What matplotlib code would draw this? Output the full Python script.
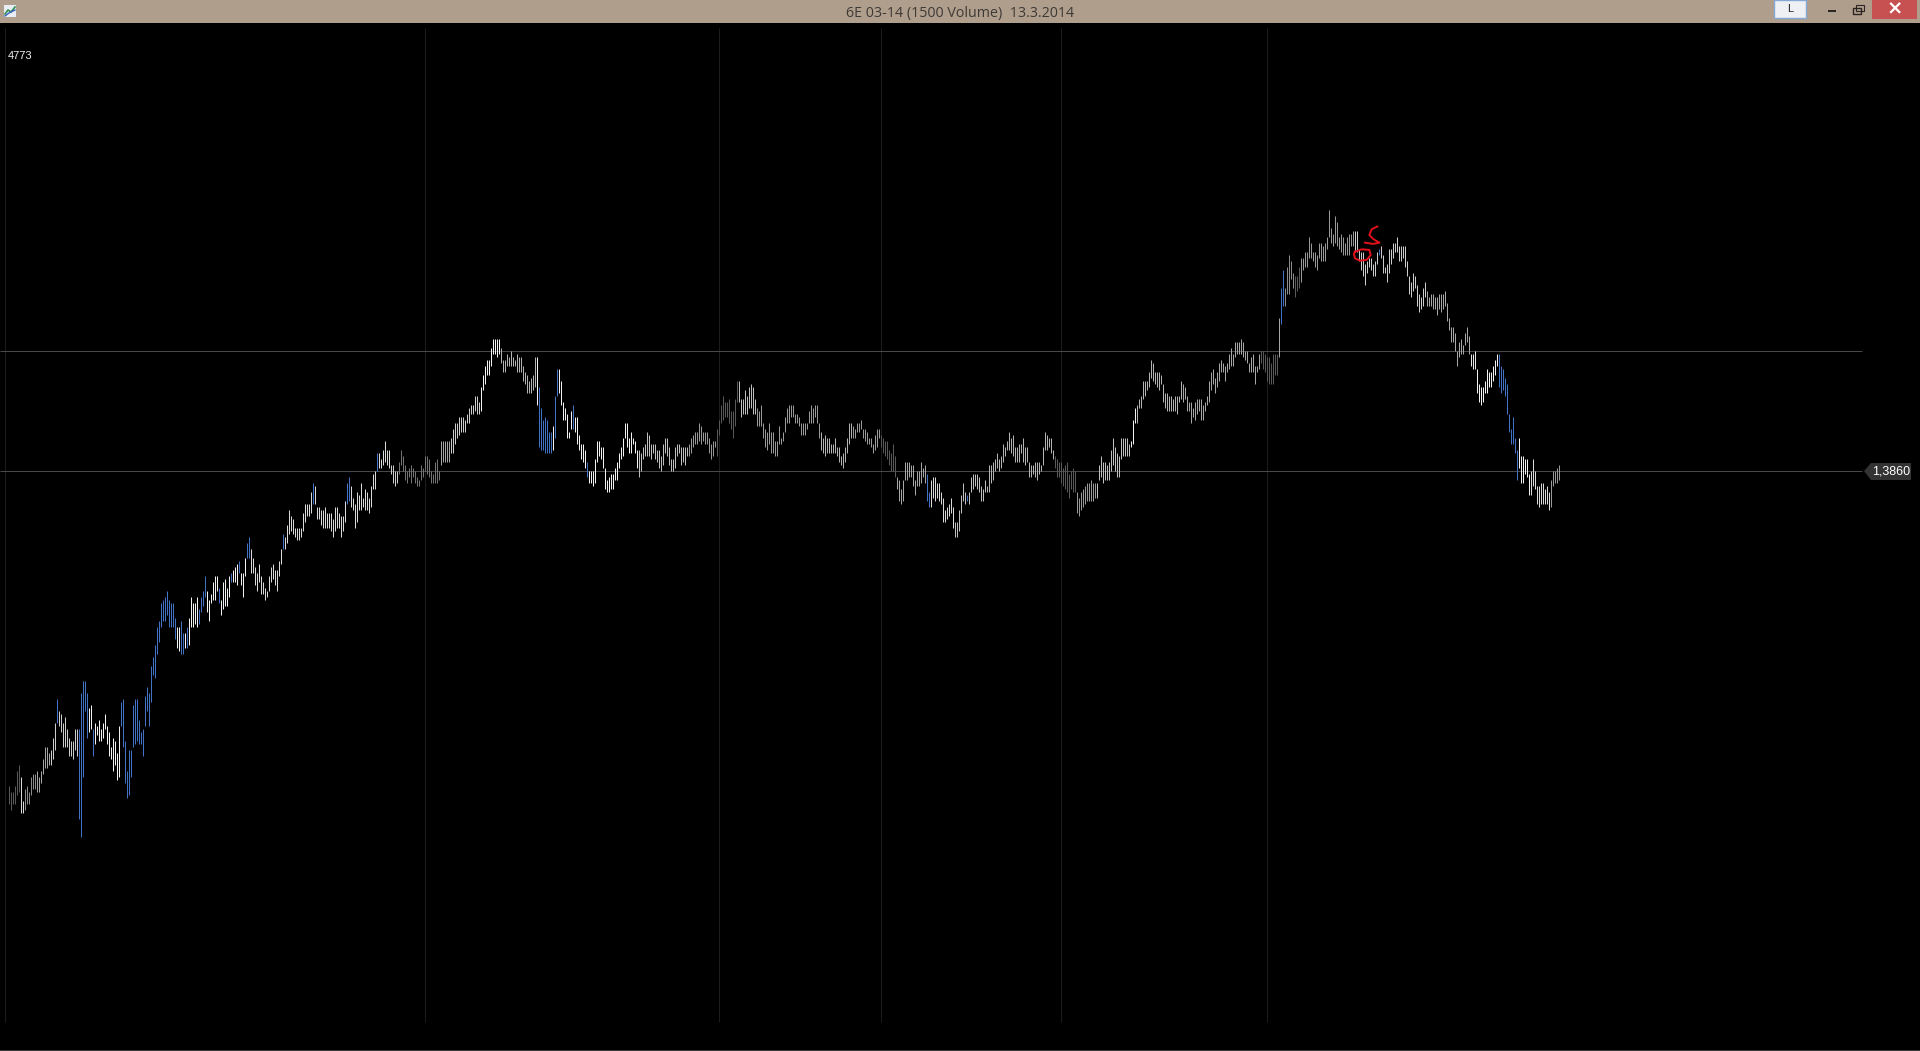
import matplotlib
matplotlib.use('Agg')
import matplotlib.pyplot as plt
from matplotlib.patches import Rectangle, Polygon

# 6E 1500 volume bars. Values are ticks above 1.3700
base_price = 1.37
tick = 0.0001

highs = [
    55,53,53,55,60,62,58,50,54,55,53,58,59,59,60,58,60,64,68,68,66,67,71,76,84,80,79,76,78,74,71,70,70,74,74,74,86,90,90,86,81,82,74,76,75,77,74,76,79,75,73,68,71,70,66,75,83,84,70,60,67,67,82,84,84,77,73,74,85,88,86,95,98,102,108,110,116,117,118,120,117,116,116,111,108,108,110,106,106,108,111,118,116,116,118,114,118,120,125,120,117,119,123,125,125,121,117,123,124,121,125,126,127,128,129,130,126,126,131,136,138,134,131,128,126,129,125,123,121,120,125,128,129,127,127,130,134,139,138,142,
    147,145,144,141,141,141,141,146,149,149,149,153,156,155,148,148,147,147,148,146,146,146,144,148,148,146,145,145,150,156,158,155,151,149,153,152,156,151,154,153,151,155,159,160,166,166,164,167,170,167,167,162,162,160,160,163,167,165,162,160,161,162,161,160,158,157,162,161,165,165,164,160,159,163,164,160,
    170,170,170,170,170,171,174,176,176,178,178,178,177,179,181,182,182,185,185,183,188,192,195,197,197,201,204,204,204,204,201,197,197,199,198,200,198,197,199,198,198,195,193,192,190,191,192,198,198,188,181,177,178,177,173,173,175,185,194,194,190,183,181,179,173,180,182,178,178,172,169,169,167,163,160,160,160,164,170,170,168,168,161,157,158,159,159,161,163,166,168,171,176,176,171,173,171,170,167,167,166,168,169,173,172,169,169,169,167,167,165,169,171,171,168,164,164,168,169,169,168,168,168,168,169,171,172,173,173,176,175,173,173,173,171,169,170,170,174,177,182,185,183,183,184,180,180,184,190,190,184,184,187,185,188,189,188,184,181,180,182,176,174,173,176,173,173,170,170,175,171,173,178,181,182,182,182,179,179,178,176,176,176,176,180,182,181,182,182,176,
    173,171,172,171,171,169,169,171,168,168,165,166,168,171,176,176,175,174,176,176,177,174,174,173,171,171,169,172,174,174,172,171,170,170,167,166,169,165,158,157,154,157,163,163,163,162,162,157,160,160,163,161,162,159,153,157,158,158,156,156,153,151,147,148,149,151,148,143,143,147,152,156,153,152,153,158,159,159,159,158,155,154,157,155,162,162,163,164,166,164,165,169,168,170,173,171,172,168,168,169,169,171,168,168,163,162,162,163,163,163,162,168,173,172,171,171,167,165,164,163,163,161,162,163,159,160,161,160,153,151,153,154,155,156,156,157,156,156,156,162,165,163,163,162,163,167,171,168,166,165,171,171,171,171,169,170,177,181,182,184,185,190,190,190,193,197,196,193,193,193,192,189,186,186,185,185,184,185,185,185,190,189,188,185,183,183,181,183,184,184,184,182,183,185,190,193,194,191,193,196,197,196,195,196,199,201,199,203,203,203,204,203,200,200,196,198,199,195,195,199,
    200,200,199,198,198,196,199,199,199,211,221,227,221,228,232,230,226,225,225,228,231,231,233,233,238,236,233,233,232,236,236,235,236,238,247,241,239,245,243,238,239,238,236,238,239,239,240,240,240,234,233,233,229,230,231,231,229,230,233,234,235,232,228,229,234,234,236,236,238,235,235,235,235,230,225,223,226,225,222,219,218,221,223,220,218,219,219,218,218,219,219,219,220,216,211,208,208,206,200,203,204,202,206,208,205,199,199,200,194,189,188,188,190,194,193,193,195,197,199,199,195,194,191,189,179,174,178,171,167,171,165,165,164,164,159,160,164,160,155,155,156,156,154,155,153,157,160,160,161,162,
]
lows = [
    49,47,49,49,52,53,46,46,47,49,49,52,54,54,53,53,56,59,61,61,62,62,64,67,76,75,73,68,68,68,65,65,64,67,65,44,38,58,80,71,73,74,65,69,72,70,70,71,74,69,65,64,60,62,57,58,75,68,56,51,52,58,68,69,70,69,69,65,75,80,75,83,92,91,99,103,108,110,110,112,108,108,108,104,101,100,99,99,101,101,102,108,108,109,108,109,113,115,118,113,110,116,117,117,120,116,112,114,115,115,118,123,123,123,122,126,122,118,125,131,131,126,126,122,120,123,119,119,117,118,120,123,124,122,120,125,129,134,134,136,
    139,140,139,138,137,137,138,140,143,145,145,146,149,149,144,144,142,141,141,141,141,140,138,140,141,141,138,140,143,149,150,148,147,141,143,147,147,148,147,147,146,148,154,154,160,161,161,162,163,162,161,159,156,155,156,159,162,160,157,156,158,156,158,156,155,155,157,158,160,159,158,156,156,156,156,157,
    162,163,163,163,163,166,166,169,171,172,173,173,173,176,176,179,179,180,179,179,180,187,189,192,192,195,199,199,198,199,196,193,193,195,195,195,195,195,193,193,193,190,189,186,186,186,187,188,182,168,167,167,166,166,166,166,167,171,185,186,182,177,177,171,171,174,174,173,169,167,164,163,161,158,156,156,155,156,163,165,164,161,154,153,153,154,154,157,157,161,164,165,171,168,166,166,169,166,161,158,160,164,165,165,165,164,166,164,163,161,160,162,166,165,162,160,160,161,165,166,162,163,162,165,165,166,168,169,169,170,169,170,169,169,166,164,165,168,165,172,176,177,178,178,176,174,171,175,183,183,178,179,179,179,181,181,179,179,175,175,175,171,168,167,169,166,166,165,165,169,169,170,173,176,176,178,178,176,176,175,172,172,172,174,176,176,176,178,176,171,
    167,166,165,166,166,166,166,166,165,163,162,161,163,166,169,171,171,171,173,173,174,171,170,169,169,168,166,167,168,171,168,166,165,164,162,160,160,158,154,150,149,150,157,157,158,158,155,152,155,155,156,158,156,150,148,148,151,150,151,150,149,143,143,144,145,146,141,138,138,140,146,150,149,150,149,153,154,155,154,153,150,150,153,153,153,156,157,160,161,160,161,163,165,167,167,166,165,163,163,163,166,163,162,163,158,158,159,158,157,159,160,162,167,167,168,166,164,161,158,158,156,155,154,153,151,154,153,153,146,145,147,148,149,150,150,150,150,151,151,157,158,156,157,157,157,160,162,160,158,158,164,165,165,165,165,168,169,176,176,181,181,184,185,187,188,191,190,189,188,187,189,183,181,180,180,180,180,180,179,183,184,183,184,180,180,176,178,177,179,180,177,177,180,182,183,187,189,186,188,190,193,193,190,193,194,195,195,198,199,199,199,198,197,196,193,193,193,189,193,194,
    196,194,193,190,189,189,189,192,192,198,209,215,215,219,219,224,221,218,220,221,223,227,228,228,231,231,230,228,227,231,230,230,230,234,238,236,235,236,235,234,233,232,232,232,232,235,235,233,233,230,227,225,222,226,228,227,225,225,229,232,231,226,226,223,226,229,231,233,233,230,230,231,228,225,219,218,220,221,215,213,214,215,218,215,215,215,214,214,212,214,213,214,215,210,207,203,203,200,195,198,199,199,202,203,199,195,194,194,186,183,182,183,186,186,188,188,190,192,195,188,186,187,185,179,173,169,169,166,157,161,156,156,159,158,152,152,155,154,149,148,149,149,149,149,147,148,155,156,156,157,
]
assert len(highs) == len(lows), (len(highs), len(lows))

# bar numbers that are painted blue
blue_bars = [24, 35, 36, 37, 38, 39, 42] + list(range(56, 84)) + [86, 87, 89, 95, 96, 97, 98, 105, 111, 115, 119, 120, 137,
             152, 169, 170, 184, 265, 266, 267, 268, 269, 270, 271, 273, 274, 282, 289,
             459, 460, 479, 636, 637, 685] + list(range(745, 755))

# first bar of each run and its grey level
shade_starts = [0, 6, 8, 14, 21, 40, 120, 191, 195, 216, 221, 236, 246, 264, 315, 340, 354, 365, 374,
                406, 422, 436, 444, 461, 473, 489, 523, 534, 544, 561, 564, 587, 626, 635, 638, 643, 646, 673, 709, 731, 734, 755, 761, 771]
shade_levels = [0.35, 0.85, 0.55, 0.65, 0.8, 0.95, 0.85, 0.8, 0.45, 0.65, 0.8, 0.95, 0.7, 0.95, 0.75, 0.6, 0.35, 0.75, 0.6,
                0.7, 0.6, 0.35, 0.65, 0.85, 0.75, 0.7, 0.35, 0.6, 0.75, 0.95, 0.7, 0.65, 0.35, 0.65, 0.55, 0.35, 0.6, 0.8, 0.65, 0.9, 0.95, 0.95, 0.85, 0.6]

grid_bars = [-2, 208, 355, 436, 526, 629]
grid_prices = [1.3900, 1.3860]

# red pen marks on the top of the chart
scribble_s_x = [684, 681.2, 680, 682, 685, 682, 677.8]
scribble_s_t = [241.5, 240.6, 238.7, 237.3, 236.1, 235.7, 236.1]
scribble_o_x = [672.8, 676.2, 680, 680.7, 678.7, 675.3, 672.8, 672.3, 672.8]
scribble_o_t = [233.1, 233.9, 233.7, 232, 230.4, 230.1, 230.9, 232.4, 233.1]

title = '6E 03-14 (1500 Volume)  13.3.2014'
W, H = 1920, 1051


def price(t):
    return base_price + t * tick


def px(x, y):
    # screen pixels, y down, to figure fraction
    return x / W, 1 - y / H


def box(fig, x0, y0, x1, y1, color, **kw):
    fig.add_artist(Rectangle(px(x0, y1), (x1 - x0) / W, (y1 - y0) / H, transform=fig.transFigure,
                             facecolor=color, edgecolor=kw.pop('edgecolor', 'none'), **kw))


def bar_colors():
    colors = []
    run = 0
    for i in range(len(highs)):
        while run + 1 < len(shade_starts) and shade_starts[run + 1] <= i:
            run += 1
        g = shade_levels[run]
        colors.append((g, g, g))
    for i in blue_bars:
        colors[i] = '#4272c4'
    return colors


def main():
    fig = plt.figure(figsize=(W / 100, H / 100), dpi=100, facecolor='black')
    ax = fig.add_axes([0, 0, 1, 1], facecolor='black')
    ax.set_xlim((0 - 9.33) / 2, (W - 9.33) / 2)
    ax.set_ylim(price(160 + (471 - H) / 3), price(160 + 471 / 3))
    ax.axis('off')

    # session lines and the two price lines
    vtop = price(160 + (471 - 28) / 3)
    vbot = price(160 + (471 - 1022) / 3)
    ax.vlines(grid_bars, vbot, vtop, colors='#1c1c1c', linewidth=0.72, zorder=1)
    ax.hlines(grid_prices, (0 - 9.33) / 2, (1862 - 9.33) / 2, colors='#484848', linewidth=0.72, zorder=2)

    xs = list(range(len(highs)))
    ax.vlines(xs, [price(v) for v in lows], [price(v) for v in highs], colors=bar_colors(), linewidth=0.72, zorder=3)

    ax.plot(scribble_s_x, [price(v) for v in scribble_s_t], color='#e3101c', linewidth=1.4, zorder=4)
    ax.plot(scribble_o_x, [price(v) for v in scribble_o_t], color='#e3101c', linewidth=1.4, zorder=4)

    # window title bar
    box(fig, 0, 0, W, 23, '#b09e8c')
    x, y = px(960, 13)
    fig.text(x, y, title, color='#3d3a36', fontsize=10.3, family='Open Sans', ha='center', va='center')

    # little app icon
    box(fig, 4, 5, 16, 17, '#e8eef4')
    fig.add_artist(plt.Line2D([5 / W, 8 / W, 11 / W, 15 / W], [1 - 14 / H, 1 - 10 / H, 1 - 12 / H, 1 - 7 / H],
                              color='#2f8f4f', linewidth=1.2))
    fig.add_artist(plt.Line2D([5 / W, 9 / W, 15 / W], [1 - 16 / H, 1 - 13 / H, 1 - 10 / H], color='#3a62c0', linewidth=1))

    # L button and window controls
    box(fig, 1774, 0, 1806, 18, '#eef0f4', edgecolor='#86a8d4', linewidth=1)
    x, y = px(1790.5, 8.5)
    fig.text(x, y, 'L', color='#222222', fontsize=8, family='Liberation Sans', ha='center', va='center')
    box(fig, 1828, 10, 1836, 12, '#2b2622')
    box(fig, 1853, 8, 1861, 14, 'none', edgecolor='#2b2622', linewidth=1)
    box(fig, 1856, 5, 1864, 11, 'none', edgecolor='#2b2622', linewidth=0.8)
    box(fig, 1872, 0, 1917, 19, '#c75050')
    x, y = px(1895, 9)
    fig.text(x, y, '\u00d7', color='white', fontsize=14, family='DejaVu Sans', fontweight='bold', ha='center', va='center')

    # bar counter
    x, y = px(8, 56)
    fig.text(x, y, '4773', color='#f0f0f0', fontsize=8, family='Liberation Sans', ha='left', va='center')

    # last price tag
    fig.add_artist(Polygon([px(1864, 471), px(1871, 463), px(1911, 463), px(1911, 480), px(1871, 480)],
                           closed=True, transform=fig.transFigure, facecolor='#333333', edgecolor='none'))
    x, y = px(1891, 472)
    fig.text(x, y, '1,3860', color='white', fontsize=9, family='Liberation Sans', ha='center', va='center')

    # thin strip at the very bottom
    box(fig, 0, 1050, W, 1051, '#3a3a3a')

    fig.savefig('out.png', dpi=100, facecolor='black')


if __name__ == '__main__':
    main()
